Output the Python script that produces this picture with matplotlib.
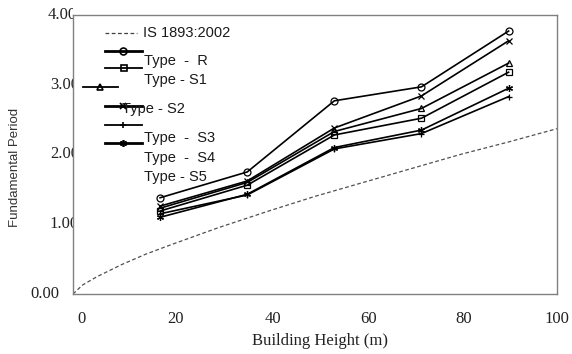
import matplotlib
matplotlib.use("Agg")
import matplotlib.pyplot as plt
from matplotlib.lines import Line2D
from matplotlib.transforms import ScaledTranslation, Bbox
import numpy as np

# ---------------- data ----------------
heights = [18, 36, 54, 72, 90]
type_r = [1.38, 1.75, 2.77, 2.97, 3.77]
type_s1 = [1.19, 1.56, 2.28, 2.52, 3.18]
type_s2 = [1.23, 1.60, 2.33, 2.66, 3.31]
type_s3 = [1.26, 1.62, 2.38, 2.84, 3.63]
type_s4 = [1.15, 1.42, 2.08, 2.30, 2.83]
type_s5 = [1.10, 1.43, 2.10, 2.35, 2.95]

code_h = [0, 2, 5, 10, 15, 20, 30, 40, 50, 60, 70, 80, 90, 100]
code_t = [0.00, 0.13, 0.25, 0.42, 0.57, 0.70, 0.95, 1.18, 1.40, 1.60, 1.80, 2.00, 2.18, 2.37]

x_ticks = [0, 20, 40, 60, 80, 100]
y_ticks = [0.00, 1.00, 2.00, 3.00, 4.00]
y_tick_labels = ["0.00", "1.00", "2.00", "3.00", "4.00"]

legend_labels = ["IS 1893:2002", "Type  -  R", "Type - S1", "Type - S2",
                 "Type  -  S3", "Type  -  S4", "Type - S5"]

# ---------------- figure ----------------
W, H = 572, 354
fig = plt.figure(figsize=(W / 100, H / 100), dpi=100)
L, R, T, B = 73, 557, 15, 294
ax = fig.add_axes([L / W, 1 - B / H, (R - L) / W, (B - T) / H])
ax.set_facecolor("white")
ax.set_zorder(0)

ax.set_xlim(0, 100)
ax.set_ylim(0, 4)

for s in ax.spines.values():
    s.set_color("#808080")
    s.set_linewidth(1.0)

serif = "Liberation Serif"
sans = "Liberation Sans"

ax.plot(code_h, code_t, color="#505050", lw=0.9, ls=(0, (3, 2)))

series = [
    (type_r, "o"),
    (type_s1, "s"),
    (type_s2, "^"),
    (type_s3, "x"),
    (type_s4, "+"),
    (type_s5, (6, 2, 0)),
]
for vals, mk in series:
    ax.plot(heights, vals, color="black", lw=1.2, marker=mk, ms=5,
            mfc="none", mec="black", mew=0.9)

# x ticks
ax.set_xticks(x_ticks)
ax.set_xticklabels([str(v) for v in x_ticks], fontfamily=serif, fontsize=12,
                   color="#222222")
ax.tick_params(axis="x", length=0, pad=12)
x_offsets_px = [8, 6, 6, 5, 3, 0]
for lab, o in zip(ax.get_xticklabels(), x_offsets_px):
    lab.set_transform(lab.get_transform()
                      + ScaledTranslation(o / 100, 0, fig.dpi_scale_trans))

# y ticks, clipped at the left spine as in the original
ax.set_yticks([])
y_label_right = [59, 79, 79, 79, 77]
clip = Bbox([[0, 0], [L, H]])
for v, lab, xr in zip(y_ticks, y_tick_labels, y_label_right):
    ypix = B - (B - T) * v / 4
    t = fig.text(xr / W, 1 - ypix / H, lab, ha="right", va="center",
                 fontfamily=serif, fontsize=12, color="#222222", zorder=-1)
    t.set_clip_box(clip)
    t.set_clip_on(True)

# axis titles
fig.text(320 / W, 1 - 341 / H, "Building Height (m)", ha="center", va="center",
         fontfamily=serif, fontsize=12, color="#222222")
fig.text(15 / W, 1 - 167 / H, "Fundamental Period", ha="center", va="center",
         rotation=90, fontfamily=sans, fontsize=9.5, color="#333333")

# ---------------- hand-placed legend (as in the original) ----------------
def fx(px):
    return px / W

def fy(py):
    return 1 - py / H

handles = [
    # (x0, x1, y, marker x, marker, lw, ls)
    (105, 137, 33, None, None, 0.9, (0, (3, 2))),
    (105, 142, 51, 123, "o", 2.0, "-"),
    (105, 142, 68, 124, "s", 1.3, "-"),
    (83, 118, 87, 100, "^", 1.3, "-"),
    (105, 142, 106, 123, "x", 2.0, "-"),
    (105, 142, 125, 123, "+", 1.3, "-"),
    (105, 142, 143, 123, (6, 2, 0), 2.0, "-"),
]
for x0, x1, y, mx, mk, lw, ls in handles:
    col = "#404040" if mk is None else "black"
    fig.add_artist(Line2D([fx(x0), fx(x1)], [fy(y), fy(y)], color=col, lw=lw,
                          ls=ls, transform=fig.transFigure, zorder=3))
    if mk is not None:
        fig.add_artist(Line2D([fx(mx)], [fy(y)], color="black", lw=0,
                              marker=mk, ms=5, mfc="none", mec="black",
                              mew=1.2, transform=fig.transFigure, zorder=3))

label_pos = [(143, 33), (144, 61), (144, 80), (122, 109),
             (144, 138), (144, 158), (144, 177)]
for (px, py), lab in zip(label_pos, legend_labels):
    fig.text(fx(px), fy(py), lab, ha="left", va="center", fontfamily=sans,
             fontsize=10.5, color="#1a1a1a", zorder=4)

fig.savefig("out.png", dpi=100)
